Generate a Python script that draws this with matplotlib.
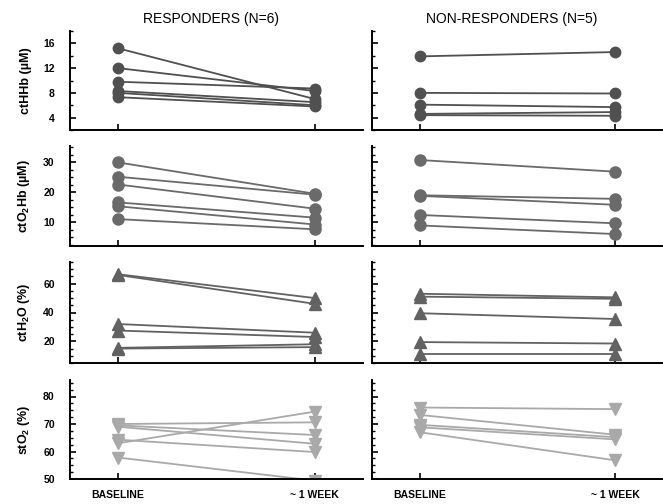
import matplotlib
matplotlib.use("Agg")
import matplotlib.pyplot as plt
from matplotlib.ticker import MultipleLocator

plt.rcParams.update({
    "font.family": ["Liberation Sans", "DejaVu Sans"],
    "mathtext.fontset": "custom",
    "mathtext.rm": "Liberation Sans",
    "mathtext.bf": "Liberation Sans:bold",
})

# time points
timepoints = ["BASELINE", "~ 1 WEEK"]

# ctHHb (uM)
resp_hhb_base = [15.2, 12.0, 9.8, 8.3, 8.0, 7.3]
resp_hhb_week = [7.0, 8.3, 8.7, 6.5, 6.0, 5.8]
non_hhb_base = [13.9, 8.0, 6.1, 4.6, 4.4]
non_hhb_week = [14.6, 7.9, 5.7, 4.9, 4.3]

# ctO2Hb (uM)
resp_o2hb_base = [30.0, 25.2, 22.6, 16.6, 15.3, 11.0]
resp_o2hb_week = [19.5, 19.2, 14.5, 11.5, 9.2, 7.6]
non_o2hb_base = [30.8, 19.0, 18.8, 12.4, 8.9]
non_o2hb_week = [26.9, 17.8, 15.8, 9.6, 6.0]

# ctH2O (%)
resp_h2o_base = [66.5, 66.0, 32.0, 27.5, 15.5, 15.0]
resp_h2o_week = [50.0, 46.0, 26.0, 23.0, 18.0, 16.0]
non_h2o_base = [53.0, 51.0, 39.5, 19.5, 11.5]
non_h2o_week = [50.5, 49.5, 35.5, 18.5, 11.5]

# stO2 (%)
resp_sto2_base = [70.0, 69.5, 69.0, 64.3, 63.0, 57.8]
resp_sto2_week = [70.6, 66.0, 62.8, 59.8, 74.5, 49.4]
non_sto2_base = [76.0, 73.3, 69.7, 68.8, 67.0]
non_sto2_week = [75.4, 66.1, 65.2, 64.4, 56.8]

rows = [
    # label, resp (base, week), non (base, week), ylim, major, minor, marker, ms, color
    ("ctHHb (µM)", (resp_hhb_base, resp_hhb_week), (non_hhb_base, non_hhb_week),
     (2, 18), 4, 2, "o", 7.5, "#505050"),
    (r"ctO$_\mathbf{2}$Hb (µM)", (resp_o2hb_base, resp_o2hb_week), (non_o2hb_base, non_o2hb_week),
     (2, 35.5), 10, 2.5, "o", 8, "#6a6a6a"),
    (r"ctH$_\mathbf{2}$O (%)", (resp_h2o_base, resp_h2o_week), (non_h2o_base, non_h2o_week),
     (5, 75), 20, 5, "^", 8, "#626262"),
    (r"stO$_\mathbf{2}$ (%)", (resp_sto2_base, resp_sto2_week), (non_sto2_base, non_sto2_week),
     (50, 86), 10, 2.5, "v", 8.5, "#a9a9a9"),
]

W, H = 663, 504
fig = plt.figure(figsize=(W / 100, H / 100), dpi=100)

col_x = [(70, 363), (372, 663)]
row_y = [(31, 130), (146, 246), (262, 363), (380, 479)]
titles = ["RESPONDERS (N=6)", "NON-RESPONDERS (N=5)"]

for r, (label, resp, non, ylim, major, minor, mk, ms, color) in enumerate(rows):
    for c, grp in enumerate([resp, non]):
        x0, x1 = col_x[c]
        yt, yb = row_y[r]
        ax = fig.add_axes([x0 / W, 1 - yb / H, (x1 - x0) / W, (yb - yt) / H])
        for b, w in zip(grp[0], grp[1]):
            ax.plot([0, 1], [b, w], color=color, lw=1.3, marker=mk, ms=ms,
                    mec=color, mew=1, solid_joinstyle="round")
        ax.set_xlim(-0.245, 1.245)
        ax.set_ylim(*ylim)
        ax.set_xticks([0, 1])
        ax.yaxis.set_major_locator(MultipleLocator(major))
        ax.yaxis.set_minor_locator(MultipleLocator(minor))
        for s in ["top", "right"]:
            ax.spines[s].set_visible(False)
        for s in ["left", "bottom"]:
            ax.spines[s].set_linewidth(1.4)
        ax.tick_params(which="major", direction="in", length=4.5, width=1.2,
                       labelsize=7.5, pad=11)
        ax.tick_params(which="minor", direction="in", length=2.5, width=1.0)
        for t in ax.get_yticklabels():
            t.set_fontweight("bold")
        if r == 3:
            ax.set_xticklabels(timepoints, fontsize=7.5, fontweight="bold")
            ax.tick_params(axis="x", pad=8)
        else:
            ax.set_xticklabels([])
        if c == 0:
            ax.set_ylabel(label, fontsize=9, fontweight="bold")
            ax.yaxis.set_label_coords(-0.128, 0.5)
        else:
            ax.set_yticklabels([])
        if r == 0:
            ax.set_title(titles[c], fontsize=10, x=0.48, pad=6)

fig.savefig("out.png", dpi=100)
